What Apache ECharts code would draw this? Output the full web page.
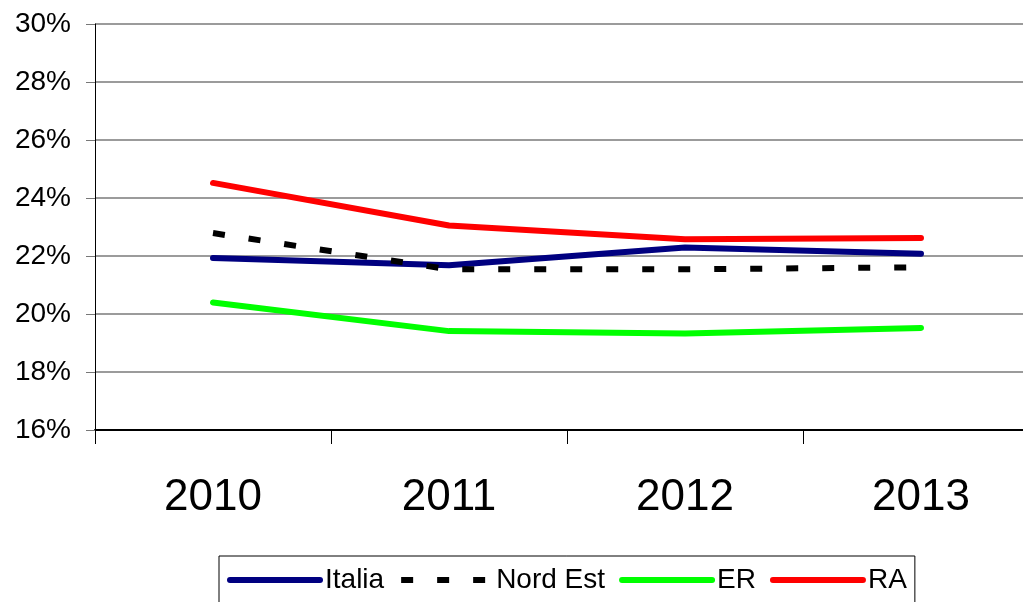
<!DOCTYPE html>
<html>
<head>
<meta charset="utf-8">
<script src="https://cdn.jsdelivr.net/npm/echarts@6/dist/echarts.min.js"></script>
<style>
  html, body { margin: 0; padding: 0; background: #fff; }
  #chart { width: 1023px; height: 602px; }
</style>
</head>
<body>
<div id="chart"></div>
<script>
// anni e valori (%)
var anni = ["2010", "2011", "2012", "2013"];
var italia = [21.93, 21.68, 22.29, 22.08];
var nordEst = [22.79, 21.54, 21.54, 21.61];
var er = [20.40, 19.41, 19.33, 19.52];
var ra = [24.52, 23.05, 22.58, 22.62];

var myChart = echarts.init(document.getElementById("chart"));

function linea(nome, dati, colore, tipo, cap) {
  return {
    name: nome,
    type: "line",
    data: dati,
    symbol: "none",
    animation: false,
    lineStyle: { color: colore, width: 6, type: tipo, cap: cap },
    itemStyle: { color: colore },
  };
}

myChart.setOption({
  animation: false,
  textStyle: { fontFamily: "Liberation Sans, Arial, sans-serif", color: "#000" },
  // l'area del grafico prosegue oltre il bordo destro
  grid: { left: 95, top: 24, width: 944, bottom: 172, containLabel: false, outerBoundsMode: "none" },
  legend: {
    left: 219,
    top: 556,
    padding: [10, 8, 30, 8],
    borderColor: "#000",
    borderWidth: 1,
    itemWidth: 90,
    itemHeight: 2,
    itemGap: 14,
    itemStyle: { opacity: 0 },
    textStyle: { fontSize: 28, color: "#000", fontFamily: "Liberation Sans, Arial, sans-serif" },
    lineStyle: { width: 6 },
    data: ["Italia", "Nord Est", "ER", "RA"],
  },
  xAxis: {
    type: "category",
    data: anni,
    boundaryGap: true,
    axisLine: { lineStyle: { color: "#000", width: 2 } },
    axisTick: { show: true, length: 14, lineStyle: { color: "#000", width: 1 } },
    axisLabel: { fontSize: 44, margin: 46, color: "#000" },
    splitLine: { show: false },
  },
  yAxis: {
    type: "value",
    min: 16,
    max: 30,
    interval: 2,
    axisLine: { show: true, lineStyle: { color: "#000", width: 1 } },
    axisTick: { show: true, length: 9, lineStyle: { color: "#777" } },
    axisLabel: { formatter: "{value}%", fontSize: 28, margin: 24, color: "#000" },
    splitLine: { lineStyle: { color: "#7a7a7a", width: 1.5 } },
  },
  series: [
    linea("Italia", italia, "#000080", "solid", "round"),
    linea("Nord Est", nordEst, "#000000", [12, 24], "butt"),
    linea("ER", er, "#00ff00", "solid", "round"),
    linea("RA", ra, "#ff0000", "solid", "round"),
  ],
});
</script>
</body>
</html>
